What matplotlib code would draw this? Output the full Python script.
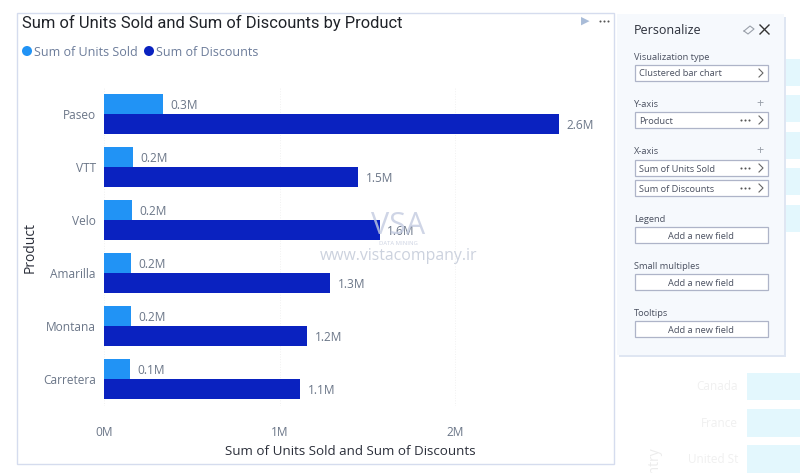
import matplotlib
matplotlib.use('Agg')
import matplotlib.pyplot as plt
from matplotlib.patches import Rectangle
import numpy as np

products = ['Paseo', 'VTT', 'Velo', 'Amarilla', 'Montana', 'Carretera']
units_sold = [0.336, 0.165, 0.16, 0.155, 0.155, 0.146]
discounts = [2.59, 1.45, 1.57, 1.29, 1.157, 1.117]
units_labels = ['0.3M', '0.2M', '0.2M', '0.2M', '0.2M', '0.1M']
discount_labels = ['2.6M', '1.5M', '1.6M', '1.3M', '1.2M', '1.1M']
x_ticks = [0, 1, 2]
x_tick_labels = ['0M', '1M', '2M']

LIGHT = '#2193f5'
DARK = '#0a22c0'
GREY = '#6b7688'
W, H = 800, 473

plt.rcParams['font.family'] = ['Open Sans', 'DejaVu Sans']

fig = plt.figure(figsize=(W / 100, H / 100), dpi=100, facecolor='white')

# everything that is not the chart goes on a full figure layer in pixels
bg = fig.add_axes([0, 0, 1, 1])
bg.set_xlim(0, W)
bg.set_ylim(H, 0)
bg.axis('off')


def box(x0, y0, x1, y1, **kw):
    bg.add_patch(Rectangle((x0, y0), x1 - x0, y1 - y0, **kw))


def dots(x, y):
    bg.scatter([x - 4, x, x + 4], [y, y, y], s=2.2, c='#555555', linewidths=0, zorder=5)


# faded report behind the panel
for y0, y1 in [(59, 86), (95, 122), (132, 159), (168, 195), (205, 232)]:
    box(785, y0, 800, y1, fc='#e3f7fd', ec='none')
for y0, y1, name in [(373, 400, 'Canada'), (409, 437, 'France'), (445, 473, 'United St')]:
    box(747, y0, 800, y1, fc='#e3f7fd', ec='none')
    bg.text(738, (y0 + y1) / 2, name, color='#f0f0f0', fontsize=8.5, ha='right', va='center')
bg.text(655, 473, 'Country', color='#ececec', fontsize=10, rotation=90, ha='center', va='center')

# chart card
box(16.5, 13, 614, 464, fc='white', ec='#d5dcee', lw=1)

# personalize panel
box(619, 17, 786, 357, fc='#dfe6f2', ec='none')
box(617, 14, 784, 355, fc='#f6f9fd', ec='none')
bg.text(634, 30.5, 'Personalize', color='#2b2f3a', fontsize=9.0, va='center')
bg.plot([744, 750, 754, 748, 744], [31, 26, 29, 34, 31], color='#9aa0aa', lw=0.8)
bg.plot([760, 769], [25, 34], color='#333333', lw=1)
bg.plot([760, 769], [34, 25], color='#333333', lw=1)


def field(y0, label, has_dots=False, arrow=True, center=False):
    box(634.5, y0, 768, y0 + 16, fc='white', ec='#aeb4c8', lw=0.9)
    if center:
        bg.text(701, y0 + 9, label, color='#4a5060', fontsize=6.7, ha='center', va='center')
    else:
        bg.text(639, y0 + 9, label, color='#4a5060', fontsize=6.7, va='center')
    if arrow:
        bg.plot([759, 763, 759], [y0 + 4, y0 + 8, y0 + 12], color='#666666', lw=0.8)
    if has_dots:
        dots(745, y0 + 8)


for y, label in [(56, 'Visualization type'), (103, 'Y-axis'), (150, 'X-axis'), (218, 'Legend'),
                 (265, 'Small multiples'), (312, 'Tooltips')]:
    bg.text(634, y + 1, label, color='#4a5060', fontsize=6.7, va='center')
for y in [103, 150]:
    bg.text(760, y, '+', color='#9aa0aa', fontsize=9, ha='center', va='center')

field(65, 'Clustered bar chart')
field(112, 'Product', has_dots=True)
field(160, 'Sum of Units Sold', has_dots=True)
field(180, 'Sum of Discounts', has_dots=True)
field(227, 'Add a new field', arrow=False, center=True)
field(274, 'Add a new field', arrow=False, center=True)
field(321, 'Add a new field', arrow=False, center=True)

# title, legend, card icons
bg.text(22, 23, 'Sum of Units Sold and Sum of Discounts by Product', color='#1f2228',
        fontsize=11.85, family='Roboto', va='center')
bg.scatter([27, 149], [51, 51], s=52, c=[LIGHT, DARK], linewidths=0)
bg.text(34, 52, 'Sum of Units Sold', color='#6c7c9a', fontsize=9.0, va='center')
bg.text(156, 52, 'Sum of Discounts', color='#6c7c9a', fontsize=9.0, va='center')
bg.text(585, 21, '\u25b6', color='#a9bcd8', fontsize=8, ha='center', va='center')
dots(604, 21)

# the chart itself, 175.5 px per million, 53 px per row
ax = fig.add_axes([104 / W, 1 - 405.5 / H, 496 / W, 318 / H])
ax.patch.set_alpha(0)
y = np.arange(len(products))
bar_h = 20 / 53
ax.barh(y - bar_h / 2, units_sold, height=bar_h, color=LIGHT, zorder=2)
ax.barh(y + bar_h / 2, discounts, height=bar_h, color=DARK, zorder=2)
for i in y:
    ax.annotate(units_labels[i], (units_sold[i], i - bar_h / 2), xytext=(5.5, -1), textcoords='offset points',
                color=GREY, fontsize=8.6, va='center')
    ax.annotate(discount_labels[i], (discounts[i], i + bar_h / 2), xytext=(5.5, -1), textcoords='offset points',
                color=GREY, fontsize=8.6, va='center')

ax.set_xlim(0, 496 / 175.5)
ax.set_ylim(5.5, -0.5)
ax.set_yticks(y, products)
ax.set_xticks(x_ticks, x_tick_labels)
ax.tick_params(length=0, labelcolor=GREY, labelsize=8.6)
ax.tick_params(axis='x', pad=15)
ax.tick_params(axis='y', pad=6)
ax.grid(axis='x', color='#f1f1f1', lw=0.7, ls=':', zorder=0)
for s in ax.spines.values():
    s.set_visible(False)

bg.text(350, 451.5, 'Sum of Units Sold and Sum of Discounts', color='#2b2f3a', fontsize=9.65,
        ha='center', va='center')
bg.text(30, 247, 'Product', color='#2b2f3a', fontsize=10, rotation=90, ha='center', va='center')

# watermark on top of the chart
top = fig.add_axes([0, 0, 1, 1])
top.set_xlim(0, W)
top.set_ylim(H, 0)
top.axis('off')
top.text(398, 226, 'VSA', color='#c3cbe0', fontsize=22, ha='center', va='center', alpha=0.8)
top.text(398, 243, 'DATA MINING', color='#cdd3e2', fontsize=4.2, ha='center', va='center')
top.text(399, 256, 'www.vistacompany.ir', color='#ccd2de', fontsize=11.4, ha='center', va='center')

fig.savefig('out.png', dpi=100)
